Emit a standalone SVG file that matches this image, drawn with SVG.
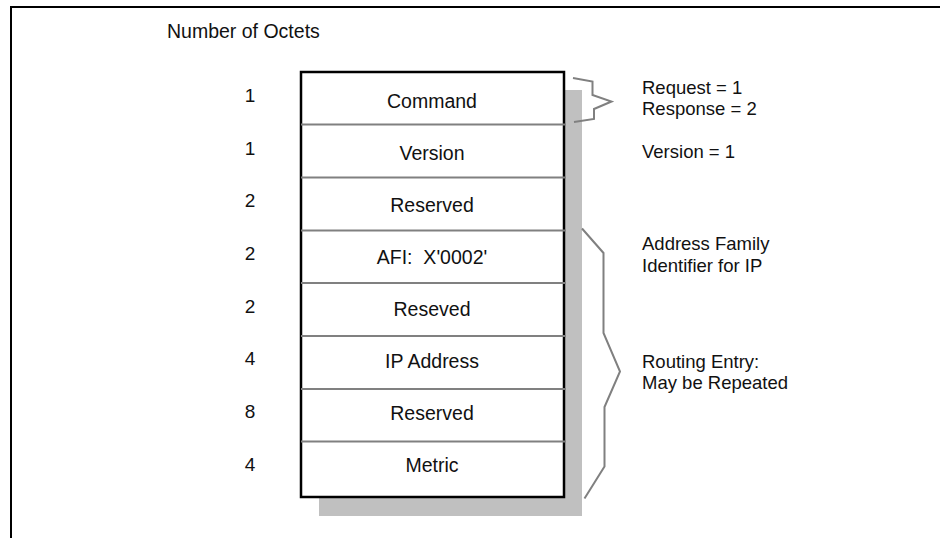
<svg xmlns="http://www.w3.org/2000/svg" width="940" height="538" viewBox="0 0 940 538">
  <style>
    text { font-family: "Liberation Sans", Arial, Helvetica, sans-serif; fill: #111; }
    .hdr { font-size: 19.5px; }
    .num { font-size: 19px; text-anchor: middle; }
    .lbl { font-size: 19.5px; text-anchor: middle; white-space: pre; }
    .note { font-size: 18.5px; }
    .frame { stroke: #000; stroke-width: 2; fill: none; }
    .shadow { fill: #c0c0c0; }
    .box { fill: #fff; stroke: #000; stroke-width: 2.5; }
    .div { stroke: #808080; stroke-width: 2; }
    .brace { fill: none; stroke: #808080; stroke-width: 2; stroke-linejoin: miter; }
  </style>

  <rect width="940" height="538" fill="#fff"/>

  <!-- page frame: top and left rules -->
  <path class="frame" d="M11,538 L11,7 L940,7"/>

  <text class="hdr" x="167" y="38">Number of Octets</text>

  <!-- packet body with drop shadow -->
  <rect class="shadow" x="319" y="90" width="263" height="426"/>
  <rect class="box" x="301" y="72" width="263" height="425"/>

  <!-- field separators -->
  <g id="separators">
    <line class="div" x1="301" y1="124.5" x2="566" y2="124.5"/>
    <line class="div" x1="301" y1="177.5" x2="566" y2="177.5"/>
    <line class="div" x1="301" y1="230.5" x2="566" y2="230.5"/>
    <line class="div" x1="301" y1="283" x2="566" y2="283"/>
    <line class="div" x1="301" y1="336" x2="566" y2="336"/>
    <line class="div" x1="301" y1="389" x2="566" y2="389"/>
    <line class="div" x1="301" y1="441.5" x2="566" y2="441.5"/>
  </g>

  <!-- fields: octet count and name -->
  <g id="field-command">
    <text class="num" x="250" y="102">1</text>
    <text class="lbl" x="432" y="108">Command</text>
  </g>
  <g id="field-version">
    <text class="num" x="250" y="154.5">1</text>
    <text class="lbl" x="432" y="160">Version</text>
  </g>
  <g id="field-reserved1">
    <text class="num" x="250" y="207">2</text>
    <text class="lbl" x="432" y="212">Reserved</text>
  </g>
  <g id="field-afi">
    <text class="num" x="250" y="260">2</text>
    <text class="lbl" x="432" y="264" xml:space="preserve">AFI:  X'0002'</text>
  </g>
  <g id="field-reserved2">
    <text class="num" x="250" y="312.5">2</text>
    <text class="lbl" x="432" y="316">Reseved</text>
  </g>
  <g id="field-ip">
    <text class="num" x="250" y="365">4</text>
    <text class="lbl" x="432" y="368">IP Address</text>
  </g>
  <g id="field-reserved3">
    <text class="num" x="250" y="418">8</text>
    <text class="lbl" x="432" y="420">Reserved</text>
  </g>
  <g id="field-metric">
    <text class="num" x="250" y="471">4</text>
    <text class="lbl" x="432" y="472">Metric</text>
  </g>

  <!-- braces linking fields to notes -->
  <g id="connectors">
    <path class="brace" d="M573,78 L592.5,81.5 L592.5,95 L611.5,101.5 L594,109 L594,119 L574,122"/>
    <path class="brace" d="M582,228.5 L603.5,253 L603.5,333 L620,371.5 L604.5,407 L604.5,466.5 L584.5,498.5"/>
  </g>

  <!-- notes -->
  <g id="note-command">
    <text class="note" x="642" y="94">Request = 1</text>
    <text class="note" x="642" y="115">Response = 2</text>
  </g>
  <g id="note-version">
    <text class="note" x="642" y="158">Version = 1</text>
  </g>
  <g id="note-afi">
    <text class="note" x="642" y="250">Address Family</text>
    <text class="note" x="642" y="272">Identifier for IP</text>
  </g>
  <g id="note-entry">
    <text class="note" x="642" y="368">Routing Entry:</text>
    <text class="note" x="642" y="389">May be Repeated</text>
  </g>
</svg>
